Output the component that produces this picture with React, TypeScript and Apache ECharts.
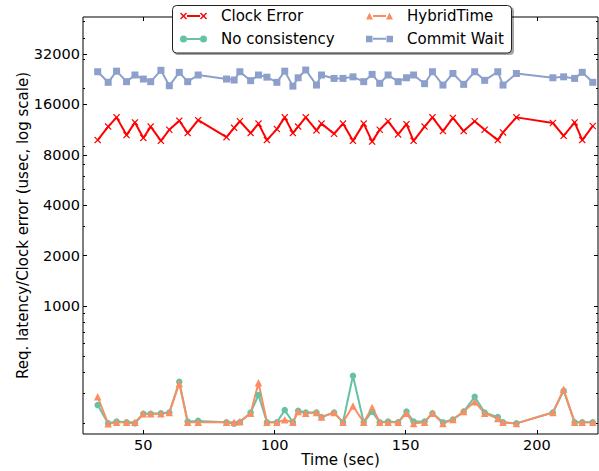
import React, { useEffect, useRef } from "react";
import * as echarts from "echarts";

const times = [32.6, 36.6, 39.8, 43.6, 46.8, 50.0, 52.8, 56.7, 59.9, 63.7, 66.9, 70.9, 81.7, 84.6, 86.8, 90.9, 93.9, 97.1, 100.9, 103.9, 107.0, 109.0, 111.9, 116.0, 117.9, 122.7, 126.1, 129.9, 134.0, 137.2, 140.1, 143.3, 147.1, 150.3, 153.0, 157.2, 160.2, 164.2, 168.0, 172.1, 176.3, 180.1, 185.1, 187.1, 192.2, 206.1, 210.2, 214.4, 217.3, 221.3];

const clockError = [9800, 11800, 13400, 10500, 12500, 10100, 11800, 9700, 11300, 12800, 10800, 12900, 10200, 11600, 12700, 10800, 12300, 9800, 11400, 13400, 10800, 11800, 13400, 11200, 12300, 10700, 12300, 9700, 12300, 9600, 11300, 12700, 10600, 12200, 9700, 11800, 13400, 11100, 13300, 11100, 12700, 11300, 9800, 10900, 13400, 12400, 10400, 12500, 9800, 11900];

const noConsistency = [256, 199, 204, 202, 199, 227, 227, 229, 231, 353, 204, 206, 202, 198, 202, 231, 294, 202, 202, 239, 202, 237, 231, 231, 217, 231, 202, 383, 202, 234, 202, 204, 202, 234, 204, 204, 229, 202, 210, 234, 287, 231, 217, 202, 199, 231, 312, 202, 202, 202];

const hybridTime = [287, 198, 202, 202, 202, 227, 227, 227, 231, 345, 202, 202, 202, 202, 204, 229, 348, 202, 202, 209, 202, 234, 229, 231, 217, 231, 202, 253, 202, 248, 202, 202, 202, 229, 199, 202, 229, 199, 210, 234, 268, 229, 213, 202, 199, 231, 318, 202, 202, 202];

const commitWait = [25100, 21700, 25300, 21900, 24000, 22700, 21900, 25600, 20700, 24900, 21900, 24000, 22700, 22400, 25100, 22200, 24000, 23300, 21700, 25300, 20600, 23100, 25700, 20900, 24000, 22900, 22900, 23400, 21900, 24200, 21400, 24000, 21900, 23100, 24000, 21300, 25100, 20900, 24500, 21100, 25100, 22300, 25100, 20900, 24500, 23100, 23400, 22900, 24900, 21700];

const xTicks = [50, 100, 150, 200];
const yMajorTicks = [1000, 2000, 4000, 8000, 16000, 32000];
const yMinorTicks = [200, 300, 400, 500, 600, 700, 800, 900, 2000, 3000, 4000, 5000, 6000, 7000, 8000, 9000, 20000, 30000, 40000, 50000];

const FONT = "'DejaVu Sans', sans-serif";

const X_SYMBOL = "path://M1.2,0L5,3.8L8.8,0L10,1.2L6.2,5L10,8.8L8.8,10L5,6.2L1.2,10L0,8.8L3.8,5L0,1.2Z";
const LINE_SEG = "M7,2.5H20V4.5H7Z";
const ICON_X = "path://M0,1L1,0L3.5,2.5L6,0L7,1L4.5,3.5L7,6L6,7L3.5,4.5L1,7L0,6L2.5,3.5Z" + LINE_SEG + "M20,1L21,0L23.5,2.5L26,0L27,1L24.5,3.5L27,6L26,7L23.5,4.5L21,7L20,6L22.5,3.5Z";
const ICON_CIRCLE = "path://M0,3.5A3.5,3.5 0 1,0 7,3.5A3.5,3.5 0 1,0 0,3.5Z" + LINE_SEG + "M20,3.5A3.5,3.5 0 1,0 27,3.5A3.5,3.5 0 1,0 20,3.5Z";
const ICON_TRI = "path://M0,7L3.5,0L7,7Z" + LINE_SEG + "M20,7L23.5,0L27,7Z";
const ICON_SQ = "path://M0,0.5H6.5V7H0Z" + LINE_SEG + "M20.5,0.5H27V7H20.5Z";

function pairs(vals: number[]) {
  return times.map((t, i) => [t, vals[i]]);
}

export default function App() {
  const ref = useRef<HTMLDivElement>(null);
  useEffect(() => {
    if (!ref.current) return;
    const chart = echarts.init(ref.current, undefined, { renderer: "svg" });
    const xMin = 27;
    const xMax = 223.3;
    const yMin = 172;
    const yMax = 53300;
    const tickLine = { color: "#000", width: 1 };
    const yCommon = {
      type: "log",
      logBase: 10,
      min: yMin,
      max: yMax,
      splitLine: { show: false },
      axisLine: { show: false },
    };
    const legendCommon = {
      orient: "vertical",
      top: 8,
      itemWidth: 27,
      itemHeight: 7,
      itemGap: 7,
      padding: 0,
      selectedMode: false,
      textStyle: { fontSize: 15, fontFamily: FONT, color: "#000", lineHeight: 16, padding: [0, 0, 0, 9] },
    };
    chart.setOption({
      animation: false,
      grid: {
        left: 83,
        right: 1,
        top: 17,
        bottom: 37,
        show: true,
        borderColor: "#000",
        borderWidth: 1,
        containLabel: false,
        outerBoundsMode: "none",
      },
      xAxis: [
        {
          type: "value",
          min: xMin,
          max: xMax,
          position: "bottom",
          axisLine: { show: false },
          splitLine: { show: false },
          axisTick: { show: true, inside: true, length: 4, customValues: xTicks, lineStyle: tickLine },
          axisLabel: { customValues: xTicks, margin: 3, fontSize: 14.5, fontFamily: FONT, color: "#000" },
          name: "Time (sec)",
          nameLocation: "middle",
          nameGap: 18,
          nameMoveOverlap: false,
          nameTextStyle: { fontSize: 15, fontFamily: FONT, color: "#000" },
        },
        {
          type: "value",
          min: xMin,
          max: xMax,
          position: "top",
          axisLine: { show: false },
          splitLine: { show: false },
          axisTick: { show: true, inside: true, length: 4, customValues: xTicks, lineStyle: tickLine },
          axisLabel: { show: false },
        },
      ],
      yAxis: [
        {
          ...yCommon,
          position: "left",
          axisTick: { show: true, inside: true, length: 4, customValues: yMajorTicks, lineStyle: tickLine },
          axisLabel: {
            customValues: yMajorTicks,
            margin: 3,
            fontSize: 14.5,
            fontFamily: FONT,
            color: "#000",
            formatter: (v: number) => String(Math.round(v)),
          },
          name: "Req. latency/Clock error (usec, log scale)",
          nameLocation: "middle",
          nameGap: 53,
          nameMoveOverlap: false,
          nameTextStyle: { fontSize: 15, fontFamily: FONT, color: "#000" },
        },
        {
          ...yCommon,
          position: "left",
          axisTick: { show: true, inside: true, length: 2, customValues: yMinorTicks, lineStyle: tickLine },
          axisLabel: { show: false },
        },
        {
          ...yCommon,
          position: "right",
          axisTick: { show: true, inside: true, length: 4, customValues: yMajorTicks, lineStyle: tickLine },
          axisLabel: { show: false },
        },
        {
          ...yCommon,
          position: "right",
          axisTick: { show: true, inside: true, length: 2, customValues: yMinorTicks, lineStyle: tickLine },
          axisLabel: { show: false },
        },
      ],
      legend: [
        {
          ...legendCommon,
          left: 180,
          data: [
            { name: "Clock Error", icon: ICON_X },
            { name: "No consistency", icon: ICON_CIRCLE },
          ],
        },
        {
          ...legendCommon,
          left: 366,
          data: [
            { name: "HybridTime", icon: ICON_TRI },
            { name: "Commit Wait", icon: ICON_SQ },
          ],
        },
      ],
      graphic: [
        {
          type: "rect",
          z: 3,
          shape: { x: 174, y: 7, width: 340, height: 48, r: 4 },
          style: { fill: "rgba(0,0,0,0.35)" },
        },
        {
          type: "rect",
          z: 3,
          shape: { x: 172.5, y: 5.5, width: 339, height: 47.5, r: 4 },
          style: { fill: "#fff", stroke: "#222", lineWidth: 1 },
        },
      ],
      series: [
        {
          name: "Clock Error",
          type: "line",
          data: pairs(clockError),
          symbol: X_SYMBOL,
          symbolSize: 7,
          showAllSymbol: true,
          color: "#ff0000",
          itemStyle: { color: "#ff0000" },
          lineStyle: { width: 2, color: "#ff0000" },
        },
        {
          name: "No consistency",
          type: "line",
          data: pairs(noConsistency),
          symbol: "circle",
          symbolSize: 6.5,
          showAllSymbol: true,
          color: "#66c2a5",
          itemStyle: { color: "#66c2a5" },
          lineStyle: { width: 2, color: "#66c2a5" },
        },
        {
          name: "HybridTime",
          type: "line",
          data: pairs(hybridTime),
          symbol: "triangle",
          symbolSize: 7.5,
          showAllSymbol: true,
          color: "#fc8d62",
          itemStyle: { color: "#fc8d62" },
          lineStyle: { width: 2, color: "#fc8d62" },
        },
        {
          name: "Commit Wait",
          type: "line",
          data: pairs(commitWait),
          symbol: "rect",
          symbolSize: 7,
          showAllSymbol: true,
          color: "#8da0cb",
          itemStyle: { color: "#8da0cb" },
          lineStyle: { width: 2, color: "#8da0cb" },
        },
      ],
    });
    return () => chart.dispose();
  }, []);
  return (
    <div
      ref={ref}
      style={{ position: "fixed", left: 0, top: 0, width: 599, height: 471, background: "#fff" }}
    />
  );
}
